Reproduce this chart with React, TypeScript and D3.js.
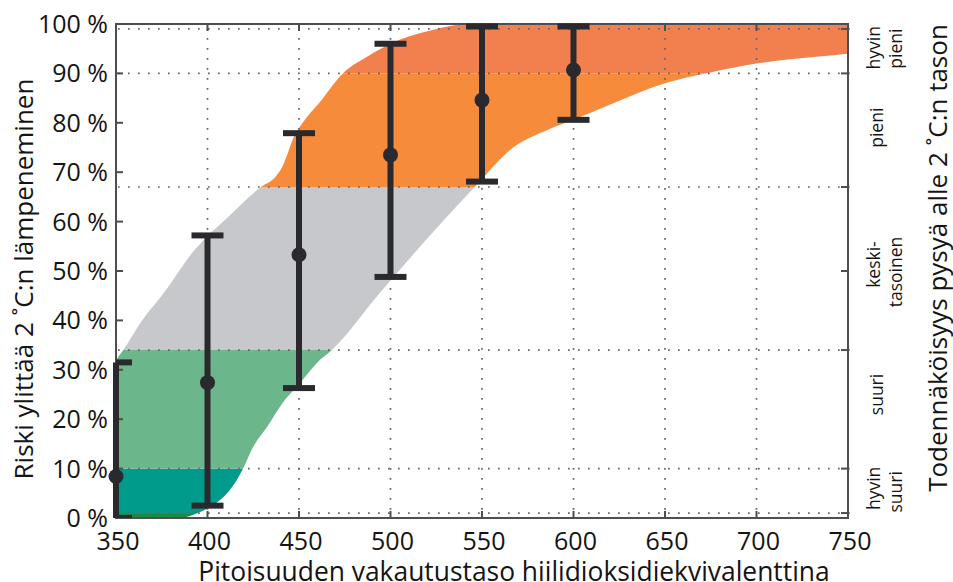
import React from "react";
import * as d3 from "d3";

// Stabilisation level (ppm CO2-eq) where the risk range is shown as an error bar
const barConc = [350, 400, 450, 500, 550, 600];
const barMid = [8.4, 27.4, 53.3, 73.5, 84.6, 90.7];
const barLow = [0, 2.5, 26.3, 48.8, 68.1, 80.6];
const barHigh = [31.5, 57.2, 77.9, 96.0, 99.5, 99.5];

// Upper edge of the risk envelope (left side of the shaded shape)
const upperConc = [350, 354, 363, 377, 393, 400, 410, 430, 436, 441, 444, 447, 452, 461, 474, 487, 505, 523, 542, 750];
const upperRisk = [32, 34, 39.3, 46, 54.3, 57.1, 60.5, 67.2, 68.6, 71.2, 74, 77, 80, 84, 90, 93.3, 96.8, 98.8, 100, 100];

// Lower edge of the risk envelope (right side of the shaded shape)
const lowerConc = [350, 384, 396, 403, 410.7, 416, 419.4, 425, 432.5, 441, 450.5, 459.8, 468, 494, 546, 567, 585.5, 600, 622, 650, 676, 700, 731, 750];
const lowerRisk = [0, 0, 1.2, 2.6, 5, 7.7, 10, 14.4, 18.4, 23.3, 27.3, 31.4, 34, 45.5, 67, 75, 78.5, 80.6, 84, 88, 90.3, 92, 93.3, 94];

// Likelihood classes (risk bands) and their colours
const bandLow = [0, 1, 10, 34, 67, 90];
const bandHigh = [1, 10, 34, 67, 90, 100];
const bandColor = ["#1d8b3f", "#009b8b", "#6cb68b", "#c6c8cc", "#f68b3c", "#f2804e"];

// Likelihood class boundaries on the right-hand scale
const classLines = [1, 10, 34, 67, 90, 99];
const rightTicks = [1, 10, 34, 50, 67, 90, 99];

// Class names for the right-hand scale (one or two lines each)
const classNames = [["hyvin", "pieni"], ["pieni"], ["keski-", "tasoinen"], ["suuri"], ["hyvin", "suuri"]];
const classCenter = [[95.2, 95], [79], [51.3, 49.8], [25], [6, 5.3]];

const xTicks = [350, 400, 450, 500, 550, 600, 650, 700, 750];
const xGrid = [400, 450, 500, 550, 600, 650, 700];
const yTicks = [0, 10, 20, 30, 40, 50, 60, 70, 80, 90, 100];

const W = 953;
const H = 582;
const FONT = "'Open Sans', 'Noto Sans', sans-serif";
const INK = "#2a292e";
const FRAME = "#4d4d52";
const TEXT = "#141414";

export default function App() {
  const x = d3.scaleLinear().domain([350, 750]).range([116, 848]);
  const y = d3.scaleLinear().domain([0, 100]).range([518, 24]);

  const upper = upperConc.map((c, i) => [c, upperRisk[i]] as [number, number]);
  const lower = lowerConc.map((c, i) => [c, lowerRisk[i]] as [number, number]);

  const under = d3
    .area<[number, number]>()
    .x((d) => x(d[0]))
    .y0(y(0))
    .y1((d) => y(d[1]))
    .curve(d3.curveMonotoneX);

  // even-odd of the two areas leaves just the band between the curves
  const envelope = (under(upper) || "") + (under(lower) || "");

  const [x0, x1] = x.range();
  const [yb, yt] = y.range();

  return (
    <svg
      width={W}
      height={H}
      style={{ position: "absolute", left: 0, top: 0, background: "#fff" }}
      fontFamily={FONT}
    >
      <defs>
        <clipPath id="envelope">
          <path d={envelope} clipRule="evenodd" />
        </clipPath>
        <clipPath id="plot">
          <rect x={x0} y={0} width={x1 - x0} height={yb} />
        </clipPath>
      </defs>

      <rect x={0} y={0} width={W} height={H} fill="#fff" />

      {/* shaded risk envelope, coloured by likelihood class */}
      <g clipPath="url(#envelope)">
        {bandLow.map((lo, i) => (
          <rect
            key={i}
            x={x0}
            width={x1 - x0}
            y={y(bandHigh[i])}
            height={y(lo) - y(bandHigh[i])}
            fill={bandColor[i]}
          />
        ))}
      </g>

      {/* dotted grid */}
      <g stroke="#646469" strokeWidth={1.7} strokeDasharray="1.7,8.3" fill="none">
        {xGrid.map((v) => (
          <line key={"gx" + v} x1={x(v)} x2={x(v)} y1={yt + 4} y2={yb} />
        ))}
        {classLines.map((v) => (
          <line key={"gy" + v} x1={x0 + 2} x2={x1 + 7} y1={y(v)} y2={y(v)} />
        ))}
      </g>

      {/* frame and inward ticks */}
      <g stroke={FRAME} strokeWidth={2} fill="none">
        <rect x={x0} y={yt} width={x1 - x0} height={yb - yt} />
        {yTicks.map((v) => (
          <line key={"ly" + v} x1={x0} x2={x0 + 7} y1={y(v)} y2={y(v)} />
        ))}
        {rightTicks.map((v) => (
          <line key={"ry" + v} x1={x1 - 7} x2={x1} y1={y(v)} y2={y(v)} />
        ))}
        {xTicks.map((v) => (
          <g key={"tx" + v}>
            <line x1={x(v)} x2={x(v)} y1={yb} y2={yb - 7} />
            <line x1={x(v)} x2={x(v)} y1={yt} y2={yt + 7} />
          </g>
        ))}
      </g>

      {/* error bars */}
      <g>
        {barConc.map((c, i) => (
          <g key={"bar" + c}>
            <line
              x1={x(c)}
              x2={x(c)}
              y1={y(barLow[i])}
              y2={y(barHigh[i])}
              stroke={INK}
              strokeWidth={6}
            />
            <g clipPath="url(#plot)">
              <rect x={x(c) - 16} y={y(barHigh[i]) - 3} width={32} height={6} fill={INK} />
              <rect x={x(c) - 16} y={y(barLow[i]) - 3} width={32} height={6} fill={INK} />
            </g>
            <circle cx={x(c)} cy={y(barMid[i])} r={7.5} fill={INK} />
          </g>
        ))}
      </g>

      {/* left axis labels */}
      <g fontSize={25} fill={TEXT} textAnchor="end">
        {yTicks.map((v) => (
          <text key={"yl" + v} x={108} y={y(v) + 9}>
            {v + " %"}
          </text>
        ))}
      </g>

      {/* bottom axis labels */}
      <g fontSize={25} fill={TEXT} textAnchor="middle">
        {xTicks.map((v) => (
          <text key={"xl" + v} x={x(v) + 2} y={550}>
            {v}
          </text>
        ))}
      </g>

      {/* likelihood class names */}
      <g fontSize={17.5} fill={TEXT} textAnchor="middle">
        {classNames.map((lines, i) =>
          lines.map((t, j) => {
            const bx = lines.length === 1 ? 883 : j === 0 ? 880 : 902;
            const cy = y(classCenter[i][j]);
            return (
              <text key={"cn" + i + j} transform={`translate(${bx},${cy}) rotate(-90)`}>
                {t}
              </text>
            );
          })
        )}
      </g>

      {/* axis titles */}
      <text
        fontSize={26}
        fill={TEXT}
        textAnchor="middle"
        transform={`translate(33,279) rotate(-90)`}
      >
        Riski ylittää 2 ˚C:n lämpeneminen
      </text>
      <text
        fontSize={26}
        fill={TEXT}
        textAnchor="middle"
        transform={`translate(947,258) rotate(-90)`}
      >
        Todennäköisyys pysyä alle 2 ˚C:n tason
      </text>
      <text fontSize={26.4} fill={TEXT} textAnchor="middle" x={514} y={581}>
        Pitoisuuden vakautustaso hiilidioksidiekvivalenttina
      </text>
    </svg>
  );
}
